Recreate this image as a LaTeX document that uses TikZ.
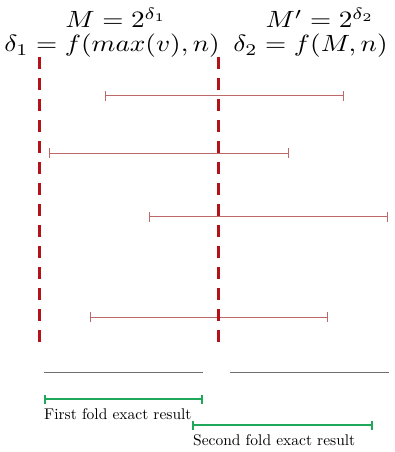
\documentclass[tikz,border=0pt]{standalone}
\usepackage{graphicx}
\usetikzlibrary{arrows.meta}
\definecolor{dashred}{RGB}{178,18,24}
\definecolor{intred}{RGB}{190,105,105}
\definecolor{fold}{RGB}{30,168,90}
\definecolor{base}{RGB}{110,110,110}
\tikzset{
  mathlbl/.style={inner sep=0pt,anchor=base},
  txtlbl/.style={inner sep=0pt,anchor=base west},
  foldline/.style={dashred,line width=3pt,dash pattern=on 12pt off 9pt},
  interval/.style={intred,line width=0.9pt,{Bar[width=10pt]}-{Bar[width=10pt]}},
  greyline/.style={base,line width=0.8pt},
  result/.style={fold,line width=2pt,{Bar[width=9pt,line width=2pt]}-{Bar[width=9pt,line width=2pt]}}}
\newcommand{\mbig}[1]{\scalebox{2.72}[2.35]{#1}}
\newcommand{\tbig}[1]{\scalebox{1.55}{#1}}
\begin{document}
\begin{tikzpicture}[x=1pt,y=-1pt]
\useasboundingbox (0,0) rectangle (394,452);
% header texts
\node[mathlbl] (m1) at (116,28) {\mbig{$M=2^{\delta_1}$}};
\node[mathlbl] (d1) at (112,52) {\mbig{$\delta_1=f(max(v),n)$}};
\node[mathlbl] (m2) at (320,28) {\mbig{$M'=2^{\delta_2}$}};
\node[mathlbl] (d2) at (310.5,52) {\mbig{$\delta_2=f(M,n)$}};
% fold lines
\coordinate (f1t) at (39.5,57);
\coordinate (f1b) at (39.5,346);
\coordinate (f2t) at (218,57);
\coordinate (f2b) at (218,346);
% intervals
\coordinate (a1) at (105,95.7);   \coordinate (b1) at (344,95.7);
\coordinate (a2) at (49.3,153.3); \coordinate (b2) at (289,153.3);
\coordinate (a3) at (148.7,216.7);\coordinate (b3) at (388.3,216.7);
\coordinate (a4) at (89.7,317.3); \coordinate (b4) at (328.3,317.3);
\draw[interval] (a1) -- (b1);
\draw[interval] (a2) -- (b2);
\draw[interval] (a3) -- (b3);
\draw[interval] (a4) -- (b4);
\draw[foldline] (f1t) -- (f1b);
\draw[foldline] (f2t) -- (f2b);
% base lines
\coordinate (g1a) at (44.3,372); \coordinate (g1b) at (203,372);
\coordinate (g2a) at (230,372);  \coordinate (g2b) at (388.7,372);
\draw[greyline] (g1a) -- (g1b);
\draw[greyline] (g2a) -- (g2b);
% results
\coordinate (r1a) at (44,399); \coordinate (r1b) at (202.7,399);
\coordinate (r2a) at (192,425); \coordinate (r2b) at (373,425);
\draw[result] (r1a) -- (r1b);
\draw[result] (r2a) -- (r2b);
\node[txtlbl] (t1) at (44,419) {\tbig{First fold exact result}};
\node[txtlbl] (t2) at (193,445) {\tbig{Second fold exact result}};
\end{tikzpicture}
\end{document}
